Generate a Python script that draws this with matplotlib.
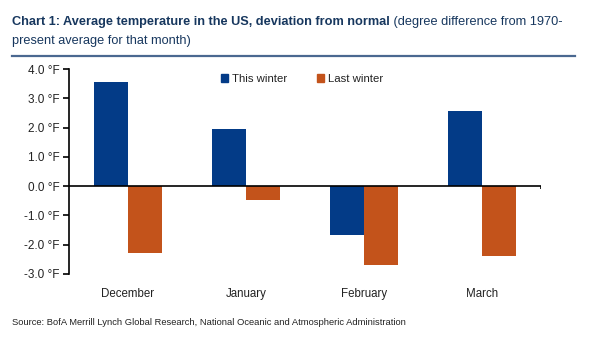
import matplotlib
matplotlib.use("Agg")
import matplotlib.pyplot as plt
from matplotlib import font_manager
from matplotlib.patches import Patch
import numpy as np

months = ["December", "January", "February", "March"]
this_winter = [3.55, 1.95, -1.67, 2.56]
last_winter = [-2.29, -0.48, -2.70, -2.39]
yticks = [4.0, 3.0, 2.0, 1.0, 0.0, -1.0, -2.0, -3.0]
ytick_labels = [f"{v:.1f} °F" for v in yticks]

title_bold = "Chart 1: Average temperature in the US, deviation from normal"
title_rest1 = " (degree difference from 1970-"
title_rest2 = "present average for that month)"
source = "Source: BofA Merrill Lynch Global Research, National Oceanic and Atmospheric Administration"

BLUE = "#033b87"
ORANGE = "#c3531b"
NAVY = "#17375e"
GREY = "#222222"

available = {f.name for f in font_manager.fontManager.ttflist}
narrow = "Liberation Sans Narrow" if "Liberation Sans Narrow" in available else "Liberation Sans"
plt.rcParams["font.family"] = ["Liberation Sans", "DejaVu Sans"]

fig = plt.figure(figsize=(6.0, 3.42), dpi=100)
W, H = 600, 342
ax = fig.add_axes([69 / W, 1 - 274 / H, (541 - 69) / W, (274 - 69) / H])

x = np.arange(len(months))
bw = 0.285
ax.bar(x - bw / 2, this_winter, width=bw, color=BLUE, label="This winter", zorder=2)
ax.bar(x + bw / 2, last_winter, width=bw, color=ORANGE, label="Last winter", zorder=2)

ax.set_xlim(-0.5, len(months) - 0.5)
ax.set_ylim(-3, 4)
ax.axhline(0, color="black", lw=1.2, zorder=3)
ax.vlines([len(months) - 0.5], -0.09, 0, color="black", lw=1.2, zorder=3)

for s in ["top", "right", "bottom"]:
    ax.spines[s].set_visible(False)
ax.spines["left"].set_linewidth(1.2)
ax.set_yticks(yticks)
ax.set_yticklabels(ytick_labels, fontsize=8.5, color=GREY)
ax.tick_params(axis="y", direction="out", length=4, width=1.2, pad=3)
ax.set_xticks(x)
ax.set_xticklabels(months, fontsize=8.3, color=GREY)
ax.tick_params(axis="x", length=0, pad=10)

handles = [Patch(color=BLUE, label="This winter"), Patch(color=ORANGE, label="Last winter")]
leg = fig.legend(handles=handles, loc="center", bbox_to_anchor=(302 / W, 1 - 79 / H),
                 ncol=2, frameon=False, fontsize=8.2, handlelength=0.65, handleheight=0.65,
                 handletextpad=0.35, columnspacing=2.6)
for t in leg.get_texts():
    t.set_color(GREY)

# Title: bold lead-in followed by the plain explanatory text, fitted to the header width
fig.canvas.draw()
renderer = fig.canvas.get_renderer()


def width_px(txt):
    return txt.get_window_extent(renderer).width


size = 11
t1 = fig.text(12 / W, 1 - 25 / H, title_bold, fontsize=size, fontweight="bold",
              family=[narrow, "DejaVu Sans"], color=NAVY, va="baseline")
t2 = fig.text(0, 1 - 25 / H, title_rest1, fontsize=size, family=[narrow, "DejaVu Sans"],
              color=NAVY, va="baseline")
total = width_px(t1) + width_px(t2)
size = min(11, size * 550 / total)
t1.set_fontsize(size)
t2.set_fontsize(size)
fig.canvas.draw()
t2.set_x((12 + width_px(t1)) / W)
fig.text(12 / W, 1 - 44 / H, title_rest2, fontsize=size, family=[narrow, "DejaVu Sans"],
         color=NAVY, va="baseline")

fig.add_artist(plt.Line2D([12 / W, 575 / W], [1 - 55.5 / H, 1 - 55.5 / H],
                          color="#4a6890", lw=1.6))

src = fig.text(12 / W, 1 - 325 / H, source, fontsize=7, family=[narrow, "DejaVu Sans"],
               color=GREY, va="baseline")
fig.canvas.draw()
src.set_fontsize(min(7.5, 7 * 395 / width_px(src)))

fig.savefig("out.png", dpi=100)
